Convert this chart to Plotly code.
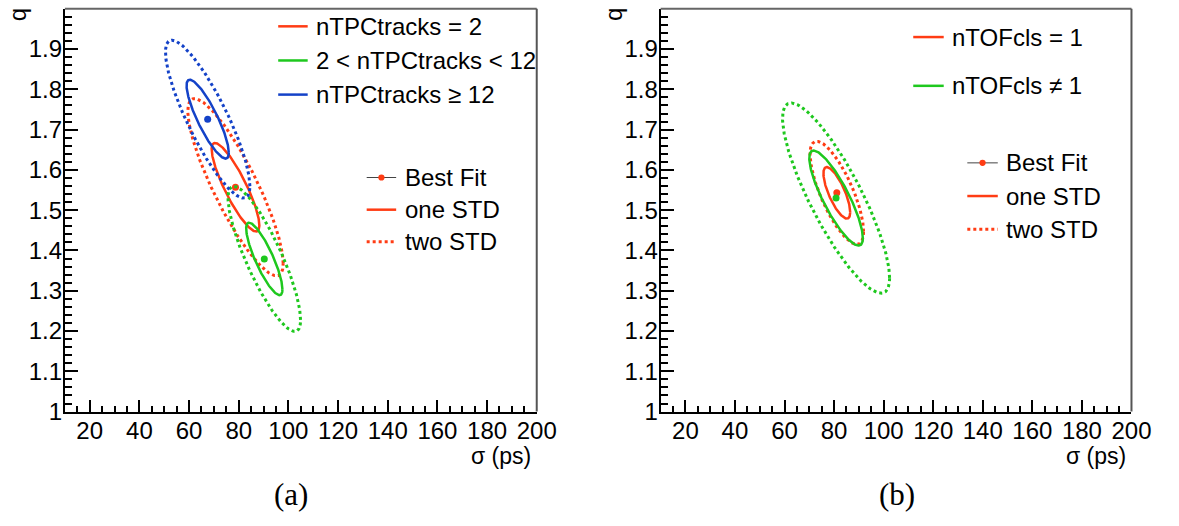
import numpy as np
import plotly.graph_objects as go

W, H = 1179, 526

# ---------------- data ----------------
# Panel (a): split by number of TPC tracks
a_labels = ["nTPCtracks = 2", "2 < nTPCtracks < 12", "nTPCtracks ≥ 12"]
a_colors = ["#ff3c14", "#1ec81e", "#1442c8"]
a_sigma = [78.7, 90.3, 67.5]      # best-fit sigma (ps)
a_q = [1.557, 1.379, 1.726]       # best-fit q
a_err_sigma = [9.6, 7.3, 8.5]     # 1 std on sigma
a_err_q = [0.110, 0.090, 0.098]   # 1 std on q
a_rho = [-0.86, -0.84, -0.85]     # correlation

# Panel (b): split by number of TOF clusters
b_labels = ["nTOFcls = 1", "nTOFcls ≠ 1"]
b_colors = ["#ff3c14", "#1ec81e"]
b_sigma = [81.1, 80.8]
b_q = [1.543, 1.530]
b_err_sigma = [5.4, 10.8]
b_err_q = [0.064, 0.118]
b_rho = [-0.75, -0.84]

style_labels = ["Best Fit", "one STD", "two STD"]
x_ticks = list(range(20, 201, 20))
y_ticks = [1.0, 1.1, 1.2, 1.3, 1.4, 1.5, 1.6, 1.7, 1.8, 1.9, 2.0]
y_ticktext = ["1", "1.1", "1.2", "1.3", "1.4", "1.5", "1.6", "1.7", "1.8", "1.9", "2"]

FONT = "Liberation Sans"
FS = 24
SERIF = "Liberation Serif"


def ellipse(mx, my, sx, sy, rho, k, n=240):
    t = np.linspace(0, 2 * np.pi, n)
    x = mx + k * sx * np.cos(t)
    y = my + k * sy * (rho * np.cos(t) + np.sqrt(1 - rho ** 2) * np.sin(t))
    return x, y


fig = go.Figure()


def add_panel(xa, ya, mxs, mys, sxs, sys_, rhos, colors):
    for mx, my, sx, sy, r, c in zip(mxs, mys, sxs, sys_, rhos, colors):
        x2, y2 = ellipse(mx, my, sx, sy, r, 2)
        fig.add_trace(go.Scatter(x=x2, y=y2, mode="lines", xaxis=xa, yaxis=ya,
                                 line=dict(color=c, width=3, dash="dot"),
                                 showlegend=False, hoverinfo="skip"))
        x1, y1 = ellipse(mx, my, sx, sy, r, 1)
        fig.add_trace(go.Scatter(x=x1, y=y1, mode="lines", xaxis=xa, yaxis=ya,
                                 line=dict(color=c, width=2.5),
                                 showlegend=False, hoverinfo="skip"))
        fig.add_trace(go.Scatter(x=[mx], y=[my], mode="markers", xaxis=xa, yaxis=ya,
                                 marker=dict(color=c, size=7),
                                 showlegend=False, hoverinfo="skip"))


add_panel("x", "y", a_sigma, a_q, a_err_sigma, a_err_q, a_rho, a_colors)
add_panel("x2", "y2", b_sigma, b_q, b_err_sigma, b_err_q, b_rho, b_colors)


def px(x):
    return x / W


def py(y):
    return 1 - y / H


TOP, BOT = 9, 422
A_L, A_R = 66, 546
B_L, B_R = 672, 1151

xcommon = dict(range=[10, 200], tickvals=x_ticks, ticks="inside", ticklen=12,
               tickwidth=2, tickcolor="black", showline=True, linewidth=2,
               linecolor="black", showgrid=False, zeroline=False,
               tickfont=dict(family=FONT, size=FS, color="black"),
               ticklabelstandoff=-3,
               minor=dict(dtick=5, tick0=0, ticks="inside", ticklen=6,
                          tickwidth=1.5, tickcolor="black", showgrid=False),
               fixedrange=True)
ycommon = dict(range=[1, 2], tickvals=y_ticks, ticktext=y_ticktext, ticks="inside",
               ticklen=13, tickwidth=2, tickcolor="black", showline=True,
               linewidth=2, linecolor="black", showgrid=False, zeroline=False,
               tickfont=dict(family=FONT, size=FS, color="black"),
               ticklabelstandoff=-4,
               minor=dict(dtick=0.02, tick0=1, ticks="inside", ticklen=7,
                          tickwidth=1.5, tickcolor="black", showgrid=False),
               fixedrange=True)

fig.update_layout(
    width=W, height=H,
    margin=dict(l=0, r=0, t=0, b=0),
    paper_bgcolor="white", plot_bgcolor="white",
    xaxis=dict(domain=[px(A_L), px(A_R)], anchor="y", **xcommon),
    yaxis=dict(domain=[py(BOT), py(TOP)], anchor="x", **ycommon),
    xaxis2=dict(domain=[px(B_L), px(B_R)], anchor="y2", **xcommon),
    yaxis2=dict(domain=[py(BOT), py(TOP)], anchor="x2", **ycommon),
    showlegend=False,
)

shapes = []
annots = []

# frame top/right lines (grey)
for L, R in [(A_L, A_R), (B_L, B_R)]:
    shapes.append(dict(type="line", xref="paper", yref="paper", x0=px(L), x1=px(R),
                       y0=py(TOP), y1=py(TOP), line=dict(color="#666666", width=2)))
    shapes.append(dict(type="line", xref="paper", yref="paper", x0=px(R), x1=px(R),
                       y0=py(TOP), y1=py(BOT), line=dict(color="#555555", width=2)))


def text(x, y, s, xanchor="left", size=FS, family=FONT, angle=0):
    annots.append(dict(x=px(x), y=py(y), xref="paper", yref="paper", text=s,
                       showarrow=False, xanchor=xanchor, yanchor="middle",
                       textangle=angle,
                       font=dict(family=family, size=size, color="black")))


def hline(x0, x1, y, color, width=2.5, dash="solid"):
    shapes.append(dict(type="line", xref="paper", yref="paper", x0=px(x0), x1=px(x1),
                       y0=py(y), y1=py(y), line=dict(color=color, width=width, dash=dash)))


def dot(x, y, color, r=3.2):
    shapes.append(dict(type="circle", xref="paper", yref="paper",
                       x0=px(x - r), x1=px(x + r), y0=py(y + r), y1=py(y - r),
                       fillcolor=color, line=dict(width=0)))


# axis titles
for L, R in [(A_L, A_R), (B_L, B_R)]:
    text(R - 4, 468, "σ (ps)", xanchor="right", size=23)
    text(L - 48, 15, "q", xanchor="center", angle=-90)

# captions
text(296, 507, "(a)", xanchor="center", size=31, family=SERIF)
text(912, 507, "(b)", xanchor="center", size=31, family=SERIF)

# legend (a) categories
for lab, c, y in zip(a_labels, a_colors, [27, 62, 97]):
    hline(283, 313, y, c)
    text(319, y, lab)
# legend (b) categories
for lab, c, y in zip(b_labels, b_colors, [38, 88]):
    hline(929, 960, y, c)
    text(966, y, lab)


def style_legend(x0, x1, xt, ys):
    hline(x0, x1, ys[0], "#444444", width=1)
    dot((x0 + x1) / 2, ys[0], "#ff3c14")
    text(xt, ys[0], style_labels[0])
    hline(x0, x1, ys[1], "#ff3c14", width=2.5)
    text(xt, ys[1], style_labels[1])
    hline(x0, x1, ys[2], "#ff3c14", width=3, dash="dot")
    text(xt, ys[2], style_labels[2])


style_legend(373, 403, 410, [182, 215, 248])
style_legend(984, 1015, 1021, [167, 201, 235])

fig.update_layout(shapes=shapes, annotations=annots)
fig.write_html("out.html")
